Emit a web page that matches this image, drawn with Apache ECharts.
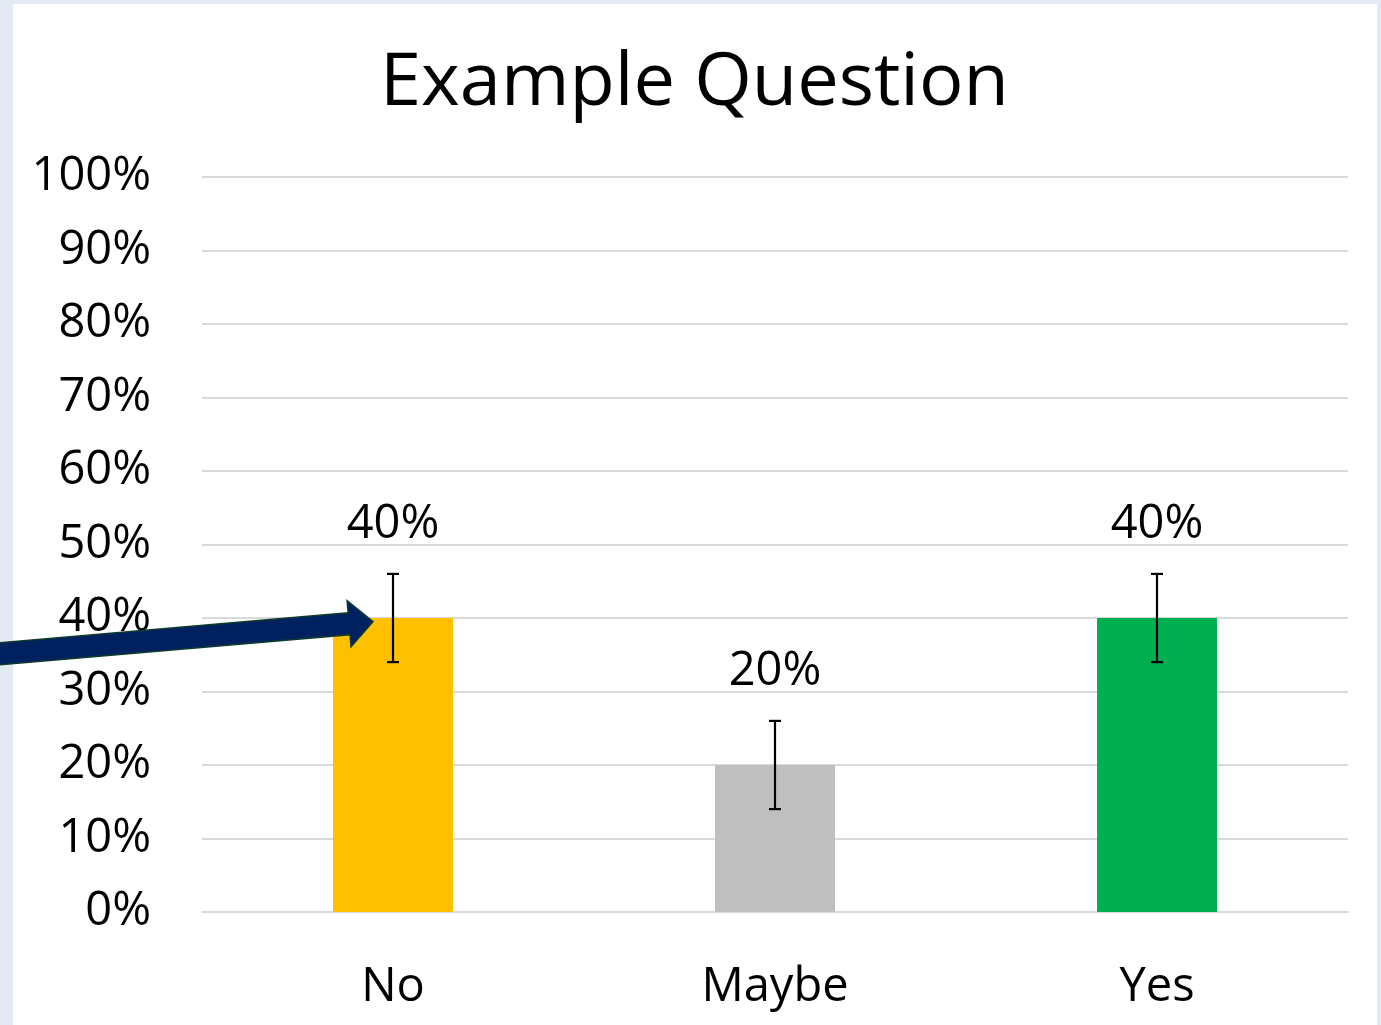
<!DOCTYPE html>
<html><head><meta charset="utf-8">
<script src="https://cdn.jsdelivr.net/npm/echarts@6/dist/echarts.min.js"></script>
<style>html,body{margin:0;padding:0;background:#e4eaf4;}#c{width:1381px;height:1025px;}</style>
</head><body><div id="c"></div>
<script>
const categories = ['No', 'Maybe', 'Yes'];
const values = [40, 20, 40];
const errLow = [34, 14, 34];
const errHigh = [46, 26, 46];
const barColors = ['#FFC000', '#BFBFBF', '#00B050'];
const yTicks = [0, 10, 20, 30, 40, 50, 60, 70, 80, 90, 100];

const FONT = '"Open Sans", "Noto Sans", sans-serif';
const chart = echarts.init(document.getElementById('c'), null, {renderer: 'canvas'});
const option = {
  backgroundColor: '#e4eaf4',
  animation: false,
  title: {
    text: 'Example Question', left: 375, top: 42,
    textStyle: {fontFamily: FONT, fontSize: 74, fontWeight: 'normal', color: '#000'}
  },
  graphic: [{
    type: 'rect', z: -10, silent: true,
    shape: {x: 13, y: 4, width: 1364, height: 1030},
    style: {fill: '#ffffff'}
  }],
  grid: {left: 202, right: 33, top: 177, bottom: 113, containLabel: false},
  xAxis: {
    type: 'category', data: categories,
    axisLine: {show: true, lineStyle: {color: '#d9d9d9', width: 2}},
    axisTick: {show: false},
    axisLabel: {fontFamily: FONT, fontSize: 47, color: '#000', margin: 52}
  },
  yAxis: {
    type: 'value', min: 0, max: 100, interval: 10,
    axisLine: {show: false}, axisTick: {show: false},
    splitLine: {lineStyle: {color: '#d9d9d9', width: 2}},
    axisLabel: {fontFamily: FONT, fontSize: 47, color: '#000', margin: 51,
      formatter: v => yTicks.includes(v) ? v + '%' : ''}
  },
  series: [{
    type: 'bar', barWidth: '31.4%',
    data: values.map((v, i) => ({value: v, itemStyle: {color: barColors[i]}})),
    label: {show: true, position: 'top', distance: 70, formatter: '{c}%',
      fontFamily: FONT, fontSize: 47, color: '#000', lineHeight: 47}
  }, {
    type: 'custom', z: 5,
    data: categories.map((c, i) => [i, errLow[i], errHigh[i]]),
    renderItem: function (params, api) {
      const lo = api.coord([api.value(0), api.value(1)]);
      const hi = api.coord([api.value(0), api.value(2)]);
      const x = Math.round(lo[0]), hw = 6;
      const st = {stroke: '#000', lineWidth: 2.2};
      return {type: 'group', children: [
        {type: 'line', shape: {x1: x, y1: lo[1], x2: x, y2: hi[1]}, style: st},
        {type: 'line', shape: {x1: x - hw, y1: lo[1], x2: x + hw, y2: lo[1]}, style: st},
        {type: 'line', shape: {x1: x - hw, y1: hi[1], x2: x + hw, y2: hi[1]}, style: st}
      ]};
    }
  }]
};
chart.setOption(option);

// Annotation arrow pointing at the "No" bar
const tip = chart.convertToPixel({xAxisIndex: 0, yAxisIndex: 0}, [0, 39.5]);
const tx = tip[0] - 20, ty = tip[1];
const sx = 0, sy = ty + 32;
const dx = tx - sx, dy = ty - sy, L = Math.hypot(dx, dy);
const ux = dx / L, uy = dy / L, nx = -uy, ny = ux;
const headLen = 24, headHalf = 23, shaftHalf = 11;
const bx = tx - ux * headLen, by = ty - uy * headLen;
const pts = [
  [sx + nx * shaftHalf - ux * 5, sy + ny * shaftHalf - uy * 5],
  [bx + nx * shaftHalf, by + ny * shaftHalf],
  [bx + nx * headHalf, by + ny * headHalf],
  [tx, ty],
  [bx - nx * headHalf, by - ny * headHalf],
  [bx - nx * shaftHalf, by - ny * shaftHalf],
  [sx - nx * shaftHalf - ux * 5, sy - ny * shaftHalf - uy * 5]
];
chart.setOption({graphic: [{
  type: 'rect', z: -10, silent: true,
  shape: {x: 13, y: 4, width: 1364, height: 1030}, style: {fill: '#ffffff'}
}, {
  type: 'polygon', z: 100, silent: true,
  shape: {points: pts},
  style: {fill: '#002060', stroke: '#0d3b2e', lineWidth: 1.5}
}]});
</script></body></html>
